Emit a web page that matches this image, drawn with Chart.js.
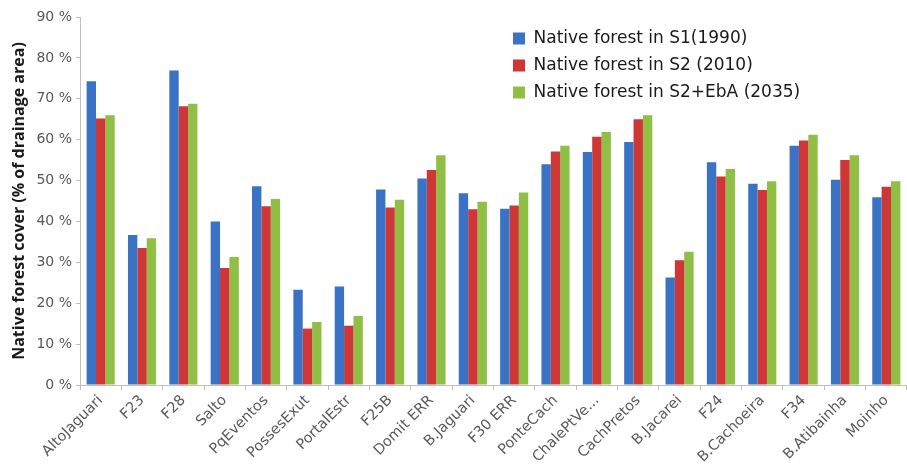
<!DOCTYPE html>
<html>
<head>
<meta charset="utf-8">
<script src="https://cdn.jsdelivr.net/npm/chart.js"></script>
<style>
  html, body { margin: 0; padding: 0; background: #fff; }
  #wrap { width: 907px; height: 466px; }
</style>
</head>
<body>
<div id="wrap"><canvas id="myChart" width="907" height="466"></canvas></div>
<script>
const sites = ["AltoJaguari","F23","F28","Salto","PqEventos","PossesExut","PortalEstr","F25B","Domit ERR","B.Jaguari",
  "F30 ERR","PonteCach","ChalePtVe...","CachPretos","B.Jacarei","F24","B.Cachoeira","F34","B.Atibainha","Moinho"];
const s1990 = [74.3, 36.7, 76.9, 40.0, 48.6, 23.3, 24.1, 47.8, 50.5, 46.9, 43.1, 54.0, 57.0, 59.4, 26.3, 54.5, 49.2, 58.5, 50.2, 45.9];
const s2010 = [65.2, 33.5, 68.2, 28.6, 43.7, 13.8, 14.5, 43.4, 52.6, 43.0, 43.9, 57.1, 60.7, 65.0, 30.5, 51.0, 47.7, 59.8, 55.0, 48.5];
const s2035 = [66.0, 35.9, 68.8, 31.3, 45.5, 15.4, 16.9, 45.3, 56.2, 44.8, 47.1, 58.5, 61.9, 66.0, 32.6, 52.8, 49.8, 61.2, 56.2, 49.8];
const yTicks = [0, 10, 20, 30, 40, 50, 60, 70, 80, 90];

const seriesNames = ["Native forest in S1(1990)", "Native forest in S2 (2010)", "Native forest in S2+EbA (2035)"];
const seriesColors = ["#3a73c5", "#cf3737", "#8fbf45"];

const axisGrey = "#bfbfbf";
const labelGrey = "#595959";

// move the legend to the upper right of the plot
const legendSpot = {
  id: "legendSpot",
  afterLayout(chart) {
    const lg = chart.legend;
    const w = lg.width, h = lg.height;
    lg.left = 503; lg.top = 20;
    lg.right = lg.left + w; lg.bottom = lg.top + h;
  }
};

new Chart("myChart", {
  type: "bar",
  data: {
    labels: sites,
    datasets: [s1990, s2010, s2035].map((d, i) => ({
      label: seriesNames[i],
      data: d,
      backgroundColor: seriesColors[i],
      borderWidth: 0,
      categoryPercentage: 0.68,
      barPercentage: 1.0
    }))
  },
  options: {
    responsive: false,
    animation: false,
    layout: { padding: { left: 0, right: -3, top: 17, bottom: 0 } },
    plugins: {
      legend: {
        position: "chartArea",
        align: "start",
        labels: {
          boxWidth: 12,
          boxHeight: 12,
          padding: 10,
          color: "#1a1a1a",
          font: { family: "'DejaVu Sans'", size: 17 }
        }
      },
      tooltip: { enabled: false }
    },
    scales: {
      x: {
        grid: { display: true, drawOnChartArea: false, offset: true, tickLength: 5, color: axisGrey },
        border: { color: axisGrey },
        ticks: {
          minRotation: 45, maxRotation: 45, autoSkip: false,
          color: labelGrey, padding: 2,
          font: { family: "'DejaVu Sans'", size: 14.5 }
        },
        afterFit(scale) { scale.height = 81; scale.paddingRight = 0; scale.paddingLeft = 0; }
      },
      y: {
        min: 0, max: 90,
        afterBuildTicks(scale) { scale.ticks = yTicks.map(v => ({ value: v })); },
        grid: { display: true, drawOnChartArea: false, tickLength: 4, color: axisGrey },
        border: { color: axisGrey },
        ticks: {
          color: labelGrey, padding: 4,
          font: { family: "'DejaVu Sans'", size: 14 },
          callback: v => v + " %"
        },
        title: {
          display: true,
          text: "Native forest cover (% of drainage area)",
          color: "#1a1a1a",
          font: { family: "'Open Sans'", size: 16, weight: "bold" },
          padding: { top: 10, bottom: 0 }
        },
        afterFit(scale) { scale.width = 80; }
      }
    }
  },
  plugins: [legendSpot]
});
</script>
</body>
</html>
